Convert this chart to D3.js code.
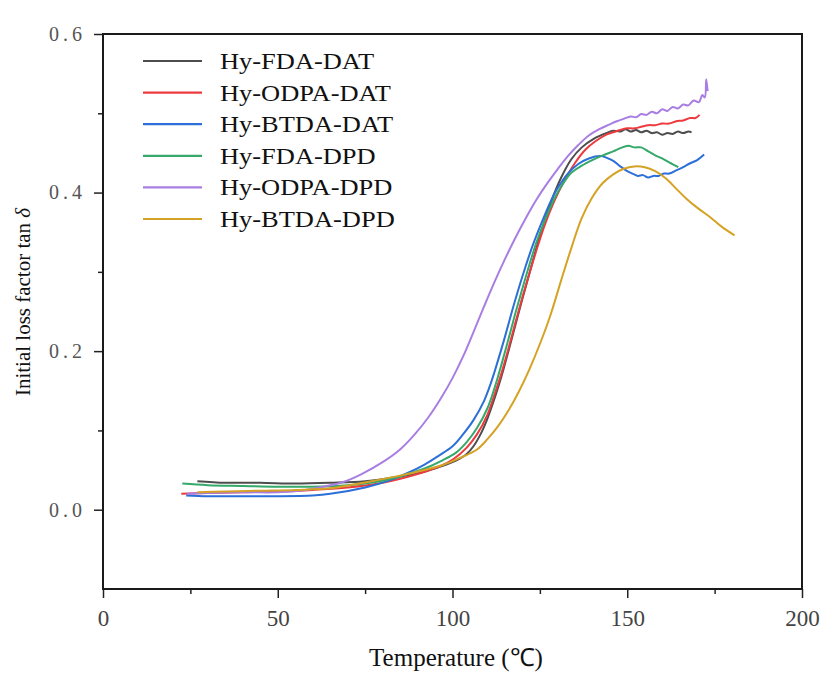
<!DOCTYPE html>
<html>
<head>
<meta charset="utf-8">
<script src="https://cdn.jsdelivr.net/npm/d3@7"></script>
<style>
    body { margin: 0; background: #fff; }
    text { font-family: "Liberation Serif", "Times New Roman", serif; }
</style>
</head>
<body>
<svg id="chart" width="824" height="677"></svg>
<script>

var seriesNames = ["Hy-FDA-DAT", "Hy-ODPA-DAT", "Hy-BTDA-DAT", "Hy-FDA-DPD", "Hy-ODPA-DPD", "Hy-BTDA-DPD"];
var seriesColors = ["#4d4d4d", "#ec3a3f", "#2c6fd8", "#35a86a", "#a97ee2", "#d5a225"];

var xTicks = [0, 50, 100, 150, 200];
var xMinorTicks = [25, 75, 125, 175];
var yTicks = [0, 0.2, 0.4, 0.6];
var yMinorTicks = [0.1, 0.3, 0.5];

// [temperature, tan delta]
var fdaDat = [[27, 0.036], [35, 0.034], [45, 0.034], [55, 0.033], [65, 0.034], [75, 0.036], [85, 0.042], [92, 0.048],
    [97, 0.055], [101, 0.062], [104, 0.07], [106, 0.08], [108, 0.095], [110, 0.115], [112, 0.14], [114, 0.168],
    [116, 0.2], [118, 0.233], [120, 0.266], [122, 0.298], [124, 0.33], [126, 0.36], [128, 0.386], [131, 0.418],
    [134, 0.442], [137, 0.457], [140.5, 0.468], [144, 0.475], [146, 0.478], [148, 0.477], [149.5, 0.48], [151, 0.477],
    [152.5, 0.479], [154, 0.476], [155.5, 0.478], [157, 0.475], [158.5, 0.476], [160, 0.473], [161.5, 0.475],
    [163, 0.474], [164.5, 0.477], [166, 0.475], [167.5, 0.477], [168.4, 0.476]];

var odpaDat = [[22.4, 0.02], [30, 0.021], [40, 0.022], [50, 0.023], [60, 0.025], [70, 0.028], [80, 0.034], [90, 0.045],
    [96, 0.054], [100.3, 0.064], [104, 0.078], [107, 0.095], [110, 0.12], [112, 0.145], [114, 0.172], [116, 0.203],
    [118, 0.236], [120, 0.268], [122, 0.298], [124, 0.327], [126.3, 0.358], [129, 0.388], [132, 0.415], [135, 0.437],
    [138, 0.454], [141, 0.465], [144, 0.473], [146, 0.476], [148, 0.479], [150, 0.481], [152, 0.481], [154, 0.483],
    [156, 0.485], [158, 0.485], [160, 0.487], [162, 0.487], [164, 0.49], [166, 0.491], [168, 0.494], [169.5, 0.494], [170.7, 0.498]];

var btdaDat = [[23.8, 0.018], [30, 0.017], [40, 0.017], [50, 0.017], [60, 0.018], [65, 0.02], [75, 0.028], [82, 0.037],
    [87, 0.046], [92, 0.057], [96, 0.068], [100, 0.08], [103, 0.095], [106, 0.113], [109, 0.137], [111, 0.16],
    [113, 0.188], [115, 0.218], [117, 0.25], [119, 0.28], [121, 0.308], [123, 0.334], [125.3, 0.36], [128, 0.388],
    [130, 0.405], [133, 0.424], [136, 0.436], [139, 0.443], [142.5, 0.446], [144, 0.444], [146, 0.44], [148, 0.433],
    [150, 0.427], [151.5, 0.424], [153, 0.421], [154.5, 0.422], [156, 0.419], [157.5, 0.421], [159, 0.421],
    [160.5, 0.424], [162, 0.424], [164, 0.428], [166, 0.432], [168, 0.437], [170, 0.441], [172, 0.448]];

var fdaDpd = [[22.7, 0.033], [30, 0.031], [40, 0.03], [50, 0.029], [60, 0.029], [70, 0.031], [78, 0.035], [85, 0.042],
    [92, 0.052], [97, 0.062], [101, 0.072], [104, 0.085], [107, 0.103], [110, 0.128], [112, 0.153], [114, 0.183],
    [116, 0.215], [118, 0.248], [120, 0.279], [122, 0.309], [124, 0.337], [126.5, 0.366], [129, 0.391], [131, 0.407],
    [134, 0.425], [137, 0.434], [140, 0.441], [143, 0.447], [146, 0.452], [148, 0.456], [150.3, 0.459], [152, 0.457],
    [154, 0.457], [156, 0.452], [158, 0.447], [160, 0.443], [162, 0.438], [164.6, 0.432]];

var odpaDpd = [[24, 0.02], [30, 0.021], [40, 0.022], [50, 0.022], [58, 0.025], [63, 0.029], [68.7, 0.035], [74, 0.045],
    [80, 0.06], [85, 0.076], [89, 0.094], [93, 0.116], [96.6, 0.14], [100, 0.166], [103, 0.193], [106, 0.224],
    [109, 0.256], [112, 0.287], [115, 0.316], [118, 0.343], [121, 0.368], [124, 0.391], [127, 0.411], [130, 0.429],
    [133, 0.446], [136, 0.46], [139, 0.472], [142, 0.48], [145, 0.486], [147, 0.49], [149, 0.493], [151, 0.496],
    [152.5, 0.495], [154, 0.499], [155.5, 0.498], [157, 0.502], [158.5, 0.5], [160, 0.505], [161.5, 0.503],
    [163, 0.508], [164.5, 0.506], [166, 0.511], [167.5, 0.51], [169, 0.516], [170.5, 0.514], [171.5, 0.523],
    [172.2, 0.52], [172.6, 0.543], [173, 0.528]];

var btdaDpd = [[27, 0.022], [35, 0.023], [45, 0.024], [55, 0.025], [65, 0.027], [74.5, 0.034], [85, 0.043], [92, 0.05],
    [97, 0.056], [102, 0.065], [107, 0.076], [110, 0.089], [113, 0.105], [116, 0.125], [119, 0.149], [122, 0.177],
    [125, 0.209], [128, 0.245], [131, 0.288], [134, 0.33], [137, 0.368], [140, 0.394], [143, 0.412], [146, 0.423],
    [149, 0.43], [152, 0.433], [155, 0.432], [158, 0.427], [161, 0.418], [164, 0.405], [167, 0.392], [170, 0.381],
    [174, 0.368], [177, 0.357], [180.7, 0.346]];

var seriesData = [fdaDat, odpaDat, btdaDat, fdaDpd, odpaDpd, btdaDpd];

var svg = d3.select("#chart");

var plotLeft = 103, plotRight = 802, plotTop = 34, plotBottom = 589;

var x = d3.scaleLinear().domain([0, 200]).range([plotLeft, plotRight]);
var y = d3.scaleLinear().domain([-0.1, 0.6]).range([plotBottom, plotTop]);

// minor ticks first
svg.append("g")
    .attr("transform", "translate(0," + plotBottom + ")")
    .call(d3.axisBottom(x).tickValues(xMinorTicks).tickSize(5).tickFormat(""))
    .call(function (g) { g.select(".domain").remove(); })
    .selectAll("line").attr("stroke", "#222").attr("stroke-width", 1.5);

svg.append("g")
    .attr("transform", "translate(" + plotLeft + ",0)")
    .call(d3.axisLeft(y).tickValues(yMinorTicks).tickSize(5).tickFormat(""))
    .call(function (g) { g.select(".domain").remove(); })
    .selectAll("line").attr("stroke", "#222").attr("stroke-width", 1.5);

var xAxis = svg.append("g")
    .attr("transform", "translate(0," + plotBottom + ")")
    .call(d3.axisBottom(x).tickValues(xTicks).tickSize(9).tickPadding(12).tickFormat(d3.format("d")));
xAxis.select(".domain").remove();
xAxis.selectAll("line").attr("stroke", "#222").attr("stroke-width", 1.5);
xAxis.selectAll("text").attr("font-size", 23).attr("fill", "#444")
    .style("font-family", "'Liberation Serif', serif");

var yAxis = svg.append("g")
    .attr("transform", "translate(" + plotLeft + ",0)")
    .call(d3.axisLeft(y).tickValues(yTicks).tickSize(9).tickPadding(8).tickFormat(d3.format(".1f")));
yAxis.select(".domain").remove();
yAxis.selectAll("line").attr("stroke", "#222").attr("stroke-width", 1.5);
yAxis.selectAll("text").attr("font-size", 20).attr("fill", "#555")
    .style("letter-spacing", "4px")
    .style("font-family", "'Liberation Serif', serif");

// frame
svg.append("rect")
    .attr("x", plotLeft).attr("y", plotTop)
    .attr("width", plotRight - plotLeft).attr("height", plotBottom - plotTop)
    .attr("fill", "none").attr("stroke", "#1a1a1a").attr("stroke-width", 2);

var line = d3.line()
    .x(function (d) { return x(d[0]); })
    .y(function (d) { return y(d[1]); })
    .curve(d3.curveCatmullRom.alpha(0.5));

seriesData.forEach(function (data, i) {
    svg.append("path")
        .datum(data)
        .attr("fill", "none")
        .attr("stroke", seriesColors[i])
        .attr("stroke-width", 2)
        .attr("stroke-linejoin", "round")
        .attr("d", line);
});

// legend
var legend = svg.append("g").attr("class", "legend");
seriesNames.forEach(function (name, i) {
    var ly = 61 + i * 31.6;
    legend.append("line")
        .attr("x1", 143).attr("x2", 202)
        .attr("y1", ly).attr("y2", ly)
        .attr("stroke", seriesColors[i]).attr("stroke-width", 2.2);
    legend.append("text")
        .attr("transform", "translate(220," + (ly + 8) + ") scale(1.15,1)")
        .attr("font-size", 23)
        .attr("fill", "#111")
        .text(name);
});

// axis titles
svg.append("text")
    .attr("x", 456).attr("y", 666)
    .attr("text-anchor", "middle")
    .attr("font-size", 25)
    .attr("fill", "#111")
    .text("Temperature (℃)");

var yTitle = svg.append("text")
    .attr("transform", "translate(30,302) rotate(-90)")
    .attr("text-anchor", "middle")
    .attr("font-size", 21)
    .attr("fill", "#111");
yTitle.append("tspan").text("Initial loss factor tan ");
yTitle.append("tspan").attr("font-style", "italic").text("δ");

</script>
</body>
</html>
